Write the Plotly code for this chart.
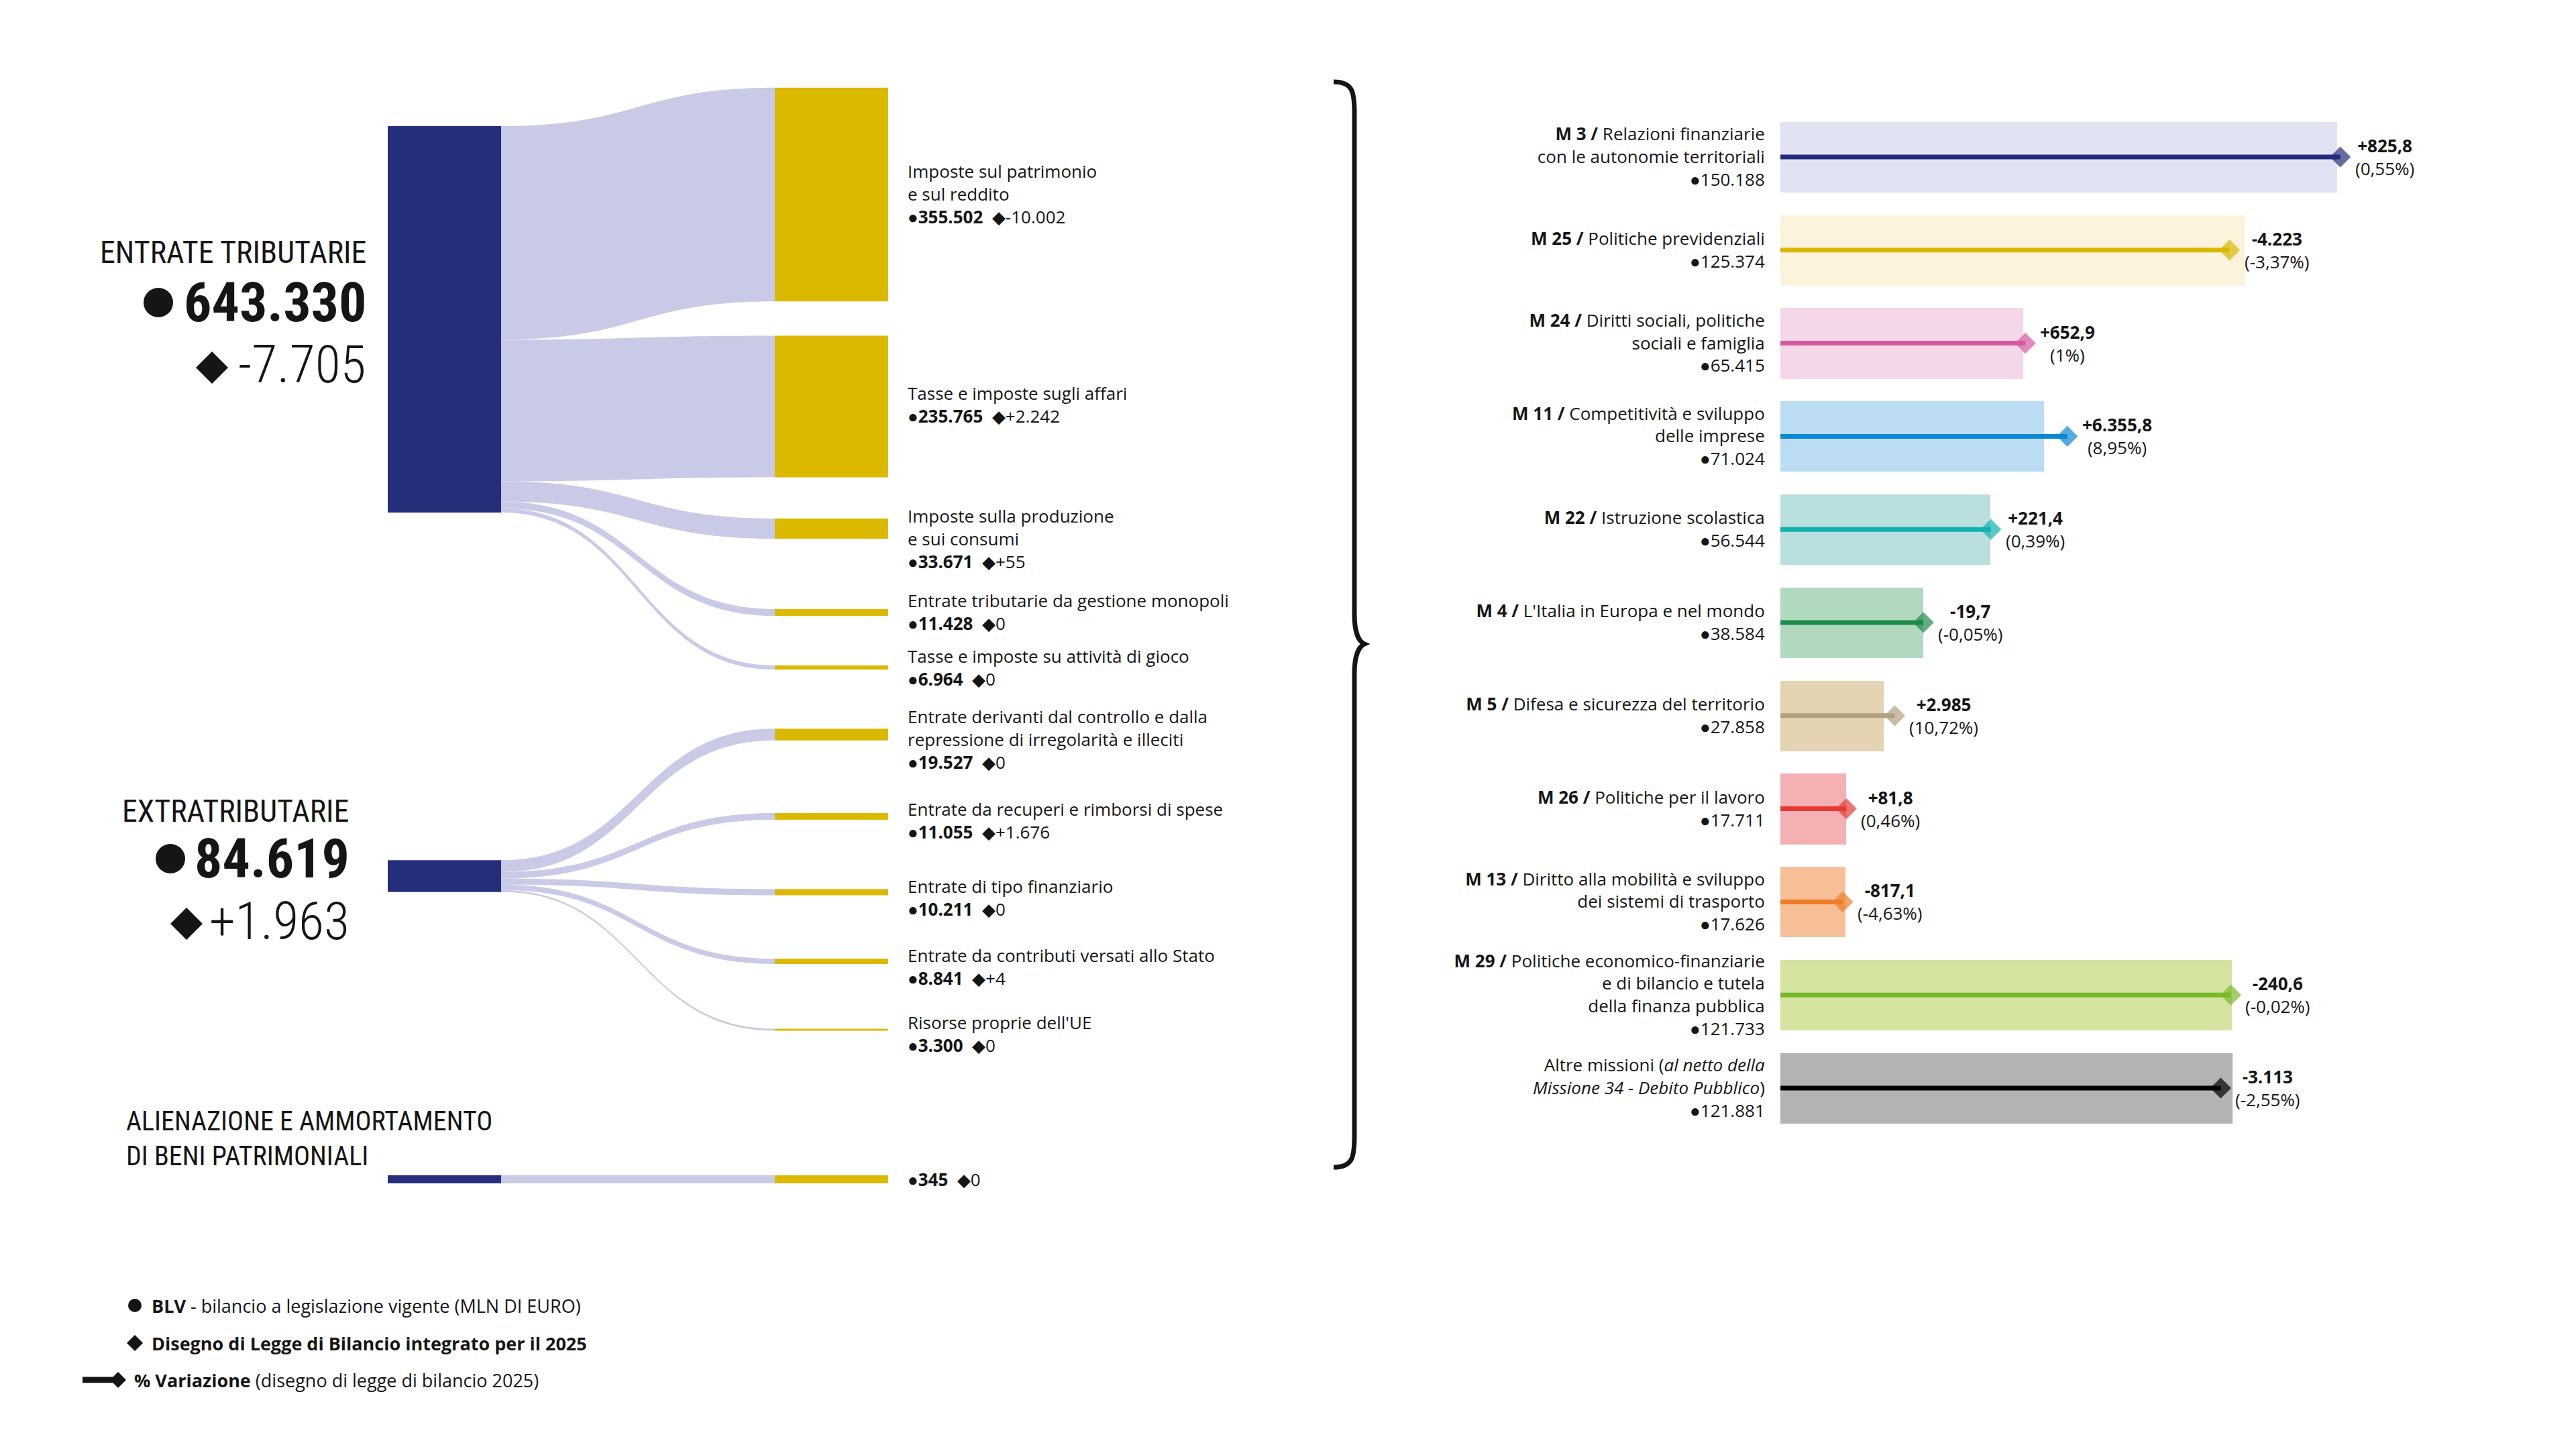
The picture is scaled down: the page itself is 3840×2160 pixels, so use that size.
import plotly.graph_objects as go

W, H = 3840, 2160
OFF = 8  # page body margin of the rendered html

# ---------------- DATA : entrate (sankey) ----------------
source_names = ["ENTRATE TRIBUTARIE", "EXTRATRIBUTARIE",
                "ALIENAZIONE E AMMORTAMENTO<br>DI BENI PATRIMONIALI"]
source_blv = [643330, 84619, 345]
source_var = [-7705, 1963, 0]

target_names = [
    "Imposte sul patrimonio<br>e sul reddito",
    "Tasse e imposte sugli affari",
    "Imposte sulla produzione<br>e sui consumi",
    "Entrate tributarie da gestione monopoli",
    "Tasse e imposte su attività di gioco",
    "Entrate derivanti dal controllo e dalla<br>repressione di irregolarità e illeciti",
    "Entrate da recuperi e rimborsi di spese",
    "Entrate di tipo finanziario",
    "Entrate da contributi versati allo Stato",
    "Risorse proprie dell'UE",
    "",
]
target_blv = [355502, 235765, 33671, 11428, 6964, 19527, 11055, 10211, 8841, 3300, 345]
target_var = [-10002, 2242, 55, 0, 0, 0, 1676, 0, 4, 0, 0]
target_source = [0, 0, 0, 0, 0, 1, 1, 1, 1, 1, 2]

# ---------------- DATA : missioni (barre) ----------------
mission_codes = ["M 3", "M 25", "M 24", "M 11", "M 22", "M 4", "M 5", "M 26", "M 13", "M 29", ""]
mission_names = [
    "Relazioni finanziarie<br>con le autonomie territoriali",
    "Politiche previdenziali",
    "Diritti sociali, politiche<br>sociali e famiglia",
    "Competitività e sviluppo<br>delle imprese",
    "Istruzione scolastica",
    "L'Italia in Europa e nel mondo",
    "Difesa e sicurezza del territorio",
    "Politiche per il lavoro",
    "Diritto alla mobilità e sviluppo<br>dei sistemi di trasporto",
    "Politiche economico-finanziarie<br>e di bilancio e tutela<br>della finanza pubblica",
    "Altre missioni (<i>al netto della</i><br><i>Missione 34 - Debito Pubblico</i>)",
]
mission_blv = [150188, 125374, 65415, 71024, 56544, 38584, 27858, 17711, 17626, 121733, 121881]
mission_var = [825.8, -4223, 652.9, 6355.8, 221.4, -19.7, 2985, 81.8, -817.1, -240.6, -3113]
mission_pct = [0.55, -3.37, 1, 8.95, 0.39, -0.05, 10.72, 0.46, -4.63, -0.02, -2.55]

legend_texts = [
    "<b>BLV</b> - bilancio a legislazione vigente (MLN DI EURO)",
    "<b>Disegno di Legge di Bilancio integrato per il 2025</b>",
    "<b>% Variazione</b> (disegno di legge di bilancio 2025)",
]

# ---------------- STYLE ----------------
NAVY = "#252e7b"
GOLD = "#dab900"
LAV = "#c8cae6"
INK = "#151515"
line_colors = ["#232c7c", "#d9b700", "#d6589e", "#0a88d0", "#11b2ad", "#1e8a4a",
               "#b3a07f", "#e53935", "#f07c24", "#7ab929", "#000000"]
fill_colors = ["#e1e3f3", "#fbf3dc", "#f5d7ea", "#bcdcf3", "#b9e0de", "#b0d9bf",
               "#e3d3b3", "#f4b0b3", "#f6bf98", "#d4e3a0", "#b4b2b2"]
COND = "Roboto Condensed, Liberation Sans Narrow, sans-serif"
TXT = "Open Sans, Roboto, sans-serif"


def it_num(v, sign=False):
    if float(v).is_integer():
        s = f"{abs(int(v)):,}".replace(",", ".")
    else:
        s = f"{abs(v):,.1f}".replace(",", "X").replace(".", ",").replace("X", ".")
    if v < 0:
        s = "-" + s
    elif sign and v > 0:
        s = "+" + s
    return s


def it_pct(p):
    return "(" + f"{p:g}".replace(".", ",") + "%)"


def px(x):
    return (x - OFF) / W


def py(y):
    return 1 - (y - OFF) / H


def pt(x, y):
    return f"{px(x):.5f},{py(y):.5f}"


# ---------------- LAYOUT POSITIONS (pixels) ----------------
SK_L, SK_R, SK_T, SK_B = 578, 1324, 100, 1800
SK_W, SK_H = SK_R - SK_L, SK_B - SK_T
NODE_THICK = 169
NODE_PAD = 119.6
SRC_CX, TGT_CX = 662.5, 1239.5
src_center_y = [476, 1306, 1758]
tgt_center_y = [290, 606, 788, 913, 995, 1095, 1217, 1330, 1433, 1535, 1758]
tgt_label_y = [289, 603, 803, 912, 995, 1102, 1223, 1338, 1441, 1541, 1758]
ALIEN_H = 12

fig = go.Figure()

# main sankey: sources 0 and 1
main_src = [0, 1]
main_tgt = [i for i, s in enumerate(target_source) if s in main_src]
nodes_y = [src_center_y[s] for s in main_src] + [tgt_center_y[i] for i in main_tgt]
n_ms = len(main_src)
fig.add_trace(go.Sankey(
    domain=dict(x=[px(SK_L), px(SK_R)], y=[py(SK_B), py(SK_T)]),
    arrangement="fixed",
    hoverinfo="none",
    node=dict(
        label=[""] * len(nodes_y),
        x=[(SRC_CX - SK_L) / SK_W] * n_ms + [(TGT_CX - SK_L) / SK_W] * len(main_tgt),
        y=[(c - SK_T) / SK_H for c in nodes_y],
        pad=NODE_PAD, thickness=NODE_THICK,
        color=[NAVY] * n_ms + [GOLD] * len(main_tgt),
        line=dict(width=0),
        hoverinfo="none",
    ),
    link=dict(
        source=[main_src.index(target_source[i]) for i in main_tgt],
        target=[n_ms + k for k in range(len(main_tgt))],
        value=[target_blv[i] for i in main_tgt],
        color=LAV,
        line=dict(width=0),
        hoverinfo="none",
    ),
))

# small sankey for "alienazione" (own scale, thin strip)
alien_tgt = [i for i, s in enumerate(target_source) if s == 2]
ay = src_center_y[2]
fig.add_trace(go.Sankey(
    domain=dict(x=[px(SK_L), px(SK_R)], y=[py(ay + ALIEN_H / 2), py(ay - ALIEN_H / 2)]),
    arrangement="fixed",
    hoverinfo="none",
    node=dict(
        label=[""] * (1 + len(alien_tgt)),
        x=[(SRC_CX - SK_L) / SK_W] + [(TGT_CX - SK_L) / SK_W] * len(alien_tgt),
        y=[0.5] * (1 + len(alien_tgt)),
        pad=0, thickness=NODE_THICK,
        color=[NAVY] + [GOLD] * len(alien_tgt),
        line=dict(width=0),
        hoverinfo="none",
    ),
    link=dict(
        source=[0] * len(alien_tgt),
        target=[1 + k for k in range(len(alien_tgt))],
        value=[target_blv[i] for i in alien_tgt],
        color=LAV, line=dict(width=0), hoverinfo="none",
    ),
))

# ---------------- missions bars ----------------
idx = list(range(len(mission_blv)))
tick_text = []
for code, name, blv in zip(mission_codes, mission_names, mission_blv):
    head = f"<b>{code} /</b> {name}" if code else name
    tick_text.append(f"{head}<br>●{it_num(blv)}")

fig.add_trace(go.Bar(
    x=mission_blv, y=idx, orientation="h",
    marker=dict(color=fill_colors, line=dict(width=0)),
    width=0.757, hoverinfo="skip", showlegend=False,
))
for i in idx:
    end = mission_blv[i] + mission_var[i]
    fig.add_trace(go.Scatter(
        x=[0, end], y=[i, i], mode="lines+markers",
        line=dict(color=line_colors[i], width=7),
        marker=dict(symbol="diamond", size=[0, 24], color=line_colors[i],
                    line=dict(width=0)),
        hoverinfo="skip", showlegend=False, cliponaxis=False,
    ))

annotations = []
for i in idx:
    end = mission_blv[i] + mission_var[i]
    annotations.append(dict(
        x=end, y=i, xref="x", yref="y", xanchor="left", yanchor="middle",
        xshift=20, align="center", showarrow=False,
        text=f"<b>{it_num(mission_var[i], sign=True)}</b><br>{it_pct(mission_pct[i])}",
        font=dict(family=TXT, size=26, color=INK),
    ))

# ---------------- sankey target labels ----------------
NB = "\u00a0\u00a0"
for name, blv, var, ly in zip(target_names, target_blv, target_var, tgt_label_y):
    line2 = f"●<b>{it_num(blv)}</b>{NB}◆{it_num(var, sign=True)}"
    text = f"{name}<br>{line2}" if name else line2
    annotations.append(dict(
        x=px(1351), y=py(ly), xref="paper", yref="paper", xanchor="left",
        yanchor="middle", align="left", showarrow=False, text=text,
        font=dict(family=TXT, size=26, color=INK),
    ))

# ---------------- sankey source labels ----------------
src_right_x = [548, 523]
src_title_y = [376, 1209]
src_num_y = [451, 1280]
src_var_y = [544, 1373]
dot_cx = [236, 254]
dia_cx = [316, 278]
shapes = []
for k in range(2):
    annotations.append(dict(
        x=px(src_right_x[k]), y=py(src_title_y[k]), xref="paper", yref="paper",
        xanchor="right", yanchor="middle", showarrow=False, text=source_names[k],
        font=dict(family=COND, size=46, color=INK),
    ))
    annotations.append(dict(
        x=px(src_right_x[k]), y=py(src_num_y[k]), xref="paper", yref="paper",
        xanchor="right", yanchor="middle", showarrow=False,
        text=f"<b>{it_num(source_blv[k])}</b>",
        font=dict(family=COND, size=82, color=INK),
    ))
    annotations.append(dict(
        x=px(src_right_x[k]), y=py(src_var_y[k]), xref="paper", yref="paper",
        xanchor="right", yanchor="middle", showarrow=False,
        text=it_num(source_var[k], sign=True),
        font=dict(family=COND, size=78, color=INK, weight=300),
    ))
    shapes.append(dict(type="circle", xref="paper", yref="paper",
                       x0=px(dot_cx[k] - 22), x1=px(dot_cx[k] + 22),
                       y0=py(src_num_y[k] - 22), y1=py(src_num_y[k] + 22),
                       fillcolor=INK, line=dict(width=0)))
    cy = src_var_y[k] + 4
    shapes.append(dict(type="path", xref="paper", yref="paper",
                       path=f"M {pt(dia_cx[k], cy - 24)} L {pt(dia_cx[k] + 24, cy)} "
                            f"L {pt(dia_cx[k], cy + 24)} L {pt(dia_cx[k] - 24, cy)} Z",
                       fillcolor=INK, line=dict(width=0)))

annotations.append(dict(
    x=px(186), y=py(1697), xref="paper", yref="paper", xanchor="left",
    yanchor="middle", align="left", showarrow=False, text=source_names[2],
    font=dict(family=COND, size=40, color=INK),
))

# ---------------- legend ----------------
legend_y = [1946, 2002, 2057]
legend_x = [224, 224, 198]
for text, lx, ly in zip(legend_texts, legend_x, legend_y):
    annotations.append(dict(
        x=px(lx), y=py(ly), xref="paper", yref="paper", xanchor="left",
        yanchor="middle", showarrow=False, text=text,
        font=dict(family=TXT, size=27, color=INK),
    ))
shapes += [
    dict(type="circle", xref="paper", yref="paper", x0=px(191), x1=px(211),
         y0=py(1956), y1=py(1936), fillcolor=INK, line=dict(width=0)),
    dict(type="path", xref="paper", yref="paper",
         path=f"M {pt(201, 1990)} L {pt(213, 2002)} L {pt(201, 2014)} L {pt(189, 2002)} Z",
         fillcolor=INK, line=dict(width=0)),
    dict(type="line", xref="paper", yref="paper", x0=px(123), x1=px(170),
         y0=py(2057), y1=py(2057), line=dict(color=INK, width=9)),
    dict(type="path", xref="paper", yref="paper",
         path=f"M {pt(176, 2045)} L {pt(188, 2057)} L {pt(176, 2069)} L {pt(164, 2057)} Z",
         fillcolor=INK, line=dict(width=0)),
]

# ---------------- brace ----------------
xl, xv, xt = 1988, 2019, 2034
yt, yc, yb = 122, 960, 1740
brace = (f"M {pt(xl, yt)} C {pt(xv - 2, yt)} {pt(xv, yt + 16)} {pt(xv, yt + 46)} "
         f"L {pt(xv, yc - 44)} C {pt(xv, yc - 19)} {pt(xv + 6, yc - 4)} {pt(xt, yc)} "
         f"C {pt(xv + 6, yc + 4)} {pt(xv, yc + 19)} {pt(xv, yc + 44)} "
         f"L {pt(xv, yb - 46)} C {pt(xv, yb - 16)} {pt(xv - 2, yb)} {pt(xl, yb)}")
shapes.append(dict(type="path", xref="paper", yref="paper", path=brace,
                   line=dict(color=INK, width=7)))

BAR_L = 2654
PX_PER_UNIT = 0.005527
ROW0, ROW_STEP = 234, 138.8
fig.update_layout(
    width=W, height=H,
    margin=dict(l=0, r=0, t=0, b=0),
    paper_bgcolor="white", plot_bgcolor="white",
    template="none",
    showlegend=False,
    bargap=0,
    xaxis=dict(domain=[px(BAR_L), 1], range=[0, (W + OFF - BAR_L) / PX_PER_UNIT],
               visible=False, fixedrange=True),
    yaxis=dict(domain=[py(ROW0 + (len(idx) - 0.5) * ROW_STEP), py(ROW0 - 0.5 * ROW_STEP)],
               range=[len(idx) - 0.5, -0.5],
               tickmode="array", tickvals=idx, ticktext=tick_text,
               ticks="outside", ticklen=17, tickcolor="rgba(0,0,0,0)",
               showgrid=False, zeroline=False, showline=False,
               tickfont=dict(family=TXT, size=26, color=INK),
               automargin=False, fixedrange=True),
    annotations=annotations,
    shapes=shapes,
)

fig.write_html("out.html", config={"displayModeBar": False})
